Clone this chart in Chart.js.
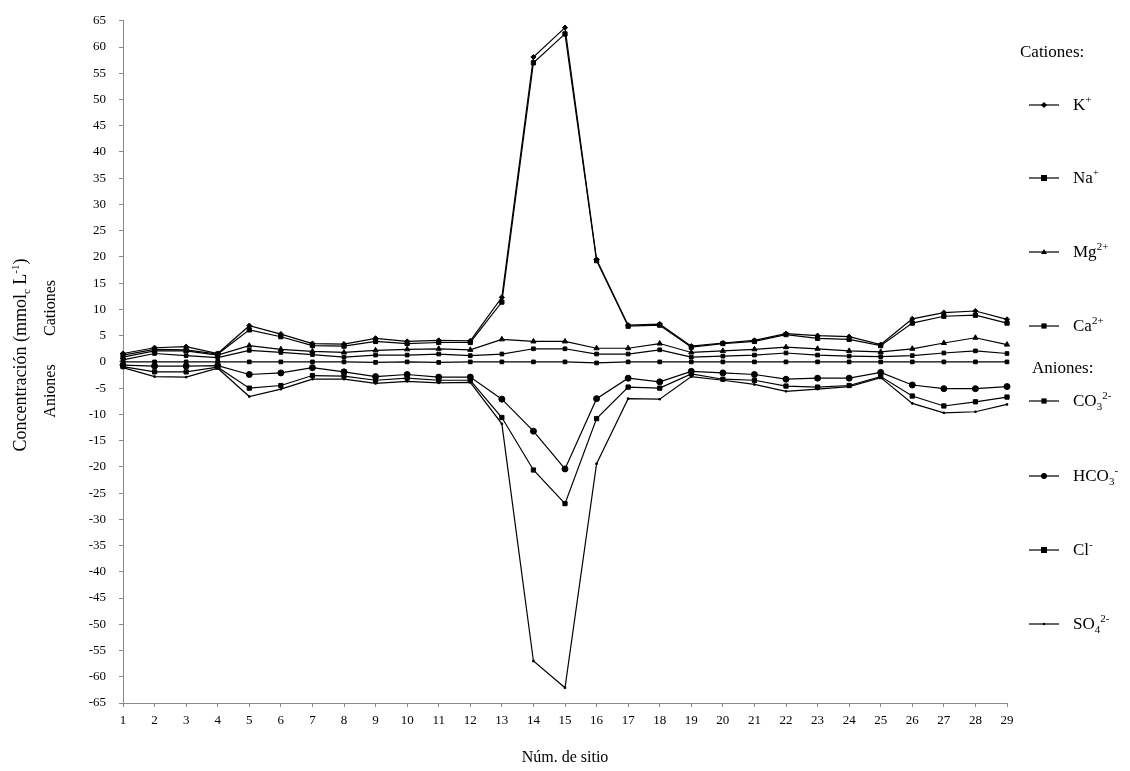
<!DOCTYPE html>
<html>
<head>
<meta charset="utf-8">
<script src="https://cdn.jsdelivr.net/npm/chart.js@4/dist/chart.umd.min.js"></script>
<style>
  html, body { margin:0; padding:0; background:#fff; }
  #wrap { position:relative; width:1130px; height:771px; font-family:"Liberation Serif","Times New Roman",serif; color:#000; }
  canvas { position:absolute; left:0; top:0; }
  .rot { position:absolute; white-space:nowrap; transform:translate(-50%,-50%) rotate(-90deg); font-size:16px; }
  .lbl { position:absolute; white-space:nowrap; font-size:17px; transform:translateY(-50%); }
  .sym { position:absolute; transform:translateY(-50%); }
  sup { font-size:11px; vertical-align:7px; line-height:0; }
  sub { font-size:11px; vertical-align:-4px; line-height:0; }
  #xt { position:absolute; left:565px; top:757px; transform:translate(-50%,-50%); font-size:16px; white-space:nowrap; }
</style>
</head>
<body>
<div id="wrap">
  <canvas id="c" width="1130" height="771"></canvas>
  <div class="rot" style="left:20px; top:355px; font-size:18px;">Concentración (mmol<sub>c</sub> L<sup>-1</sup>)</div>
  <div class="rot" style="left:50px; top:308px;">Cationes</div>
  <div class="rot" style="left:50px; top:391px;">Aniones</div>
  <div id="xt">Núm. de sitio</div>
  <div id="legend"></div>
</div>
<script>
// ---- data ----
const sites = [1,2,3,4,5,6,7,8,9,10,11,12,13,14,15,16,17,18,19,20,21,22,23,24,25,26,27,28,29];
const K    = [1.6, 2.7, 2.9, 1.6, 6.9, 5.3, 3.5, 3.4, 4.5, 3.9, 4.1, 4.0, 12.3, 58.1, 63.7, 19.5, 7.0, 7.2, 3.0, 3.6, 4.1, 5.4, 5.0, 4.8, 3.3, 8.2, 9.4, 9.7, 8.1];
const Na   = [1.3, 2.4, 2.3, 1.5, 6.1, 4.8, 3.1, 3.0, 3.9, 3.5, 3.7, 3.7, 11.4, 57.0, 62.5, 19.3, 6.8, 7.0, 2.8, 3.5, 3.9, 5.2, 4.5, 4.3, 3.1, 7.4, 8.7, 8.9, 7.4];
const Mg   = [0.9, 2.1, 2.1, 1.3, 3.1, 2.4, 2.0, 1.8, 2.2, 2.4, 2.5, 2.3, 4.3, 3.9, 3.9, 2.6, 2.6, 3.5, 1.8, 2.1, 2.4, 2.8, 2.5, 2.1, 1.9, 2.5, 3.6, 4.6, 3.3];
const Ca   = [0.4, 1.6, 1.2, 0.8, 2.2, 1.8, 1.4, 0.9, 1.3, 1.3, 1.5, 1.2, 1.5, 2.5, 2.5, 1.5, 1.5, 2.3, 0.9, 1.1, 1.3, 1.7, 1.3, 1.1, 1.0, 1.2, 1.7, 2.1, 1.6];
const CO3  = [0, 0, 0, 0, 0, 0, 0, 0, -0.1, 0, -0.1, 0, 0, 0, 0, -0.2, 0, 0, 0, 0, 0, 0, 0, 0, 0, 0, 0, 0, 0];
const HCO3 = [-0.6, -0.8, -0.8, -0.7, -2.4, -2.1, -1.1, -1.9, -2.8, -2.4, -2.9, -2.9, -7.1, -13.2, -20.4, -7.0, -3.1, -3.8, -1.8, -2.1, -2.4, -3.3, -3.1, -3.1, -2.0, -4.4, -5.1, -5.1, -4.7];
const Cl   = [-0.9, -1.9, -1.9, -1.0, -5.0, -4.5, -2.6, -2.7, -3.5, -3.1, -3.5, -3.5, -10.6, -20.6, -27.0, -10.8, -4.8, -5.0, -2.3, -3.3, -3.5, -4.6, -4.8, -4.5, -2.8, -6.5, -8.4, -7.6, -6.7];
const SO4  = [-1.1, -2.8, -2.9, -1.2, -6.6, -5.2, -3.3, -3.3, -4.1, -3.7, -4.0, -3.9, -11.8, -57.0, -62.1, -19.4, -7.0, -7.1, -2.8, -3.5, -4.3, -5.6, -5.2, -4.7, -3.0, -7.9, -9.7, -9.5, -8.1];
const seriesLabels = ['K<sup>+</sup>', 'Na<sup>+</sup>', 'Mg<sup>2+</sup>', 'Ca<sup>2+</sup>', 'CO<sub>3</sub><sup>2-</sup>', 'HCO<sub>3</sub><sup>-</sup>', 'Cl<sup>-</sup>', 'SO<sub>4</sub><sup>2-</sup>'];
const groupHeaders = ['Cationes:', 'Aniones:'];
const yMin = -65, yMax = 65, yStep = 5;

// ---- styles ----
const styles = [
  {pt:'rectRot', r:2.6},
  {pt:'rect', r:3},
  {pt:'triangle', r:3},
  {pt:'rect', r:2.6},
  {pt:'rect', r:2.6},
  {pt:'circle', r:3},
  {pt:'rect', r:3},
  {pt:'rect', r:1.1}
];
const values = [K, Na, Mg, Ca, CO3, HCO3, Cl, SO4];
const datasets = values.map((v, i) => ({
  label: seriesLabels[i],
  data: v,
  borderColor: '#000',
  backgroundColor: '#000',
  borderWidth: 1.2,
  pointStyle: styles[i].pt,
  pointRadius: styles[i].r,
  pointBorderWidth: 1,
  pointBorderColor: '#000',
  pointBackgroundColor: '#000',
  tension: 0,
  fill: false
}));

const axisColor = '#8a8a8a';
new Chart(document.getElementById('c'), {
  type: 'line',
  data: { labels: sites, datasets },
  options: {
    responsive: false,
    animation: false,
    devicePixelRatio: 1,
    layout: { padding: { top: 15, right: 123, left: 0, bottom: 0 } },
    plugins: { legend: { display: false }, tooltip: { enabled: false } },
    scales: {
      x: {
        type: 'category',
        offset: false,
        grid: { drawOnChartArea: false, drawTicks: true, tickLength: 4, color: axisColor },
        border: { color: axisColor, width: 1 },
        ticks: { autoSkip: false, maxRotation: 0, color: '#000', padding: 6,
                 font: { family: 'Liberation Serif', size: 13 } },
        afterFit: s => { s.height = 68; }
      },
      y: {
        type: 'linear',
        min: yMin, max: yMax,
        grid: { drawOnChartArea: false, drawTicks: true, tickLength: 4, color: axisColor },
        border: { color: axisColor, width: 1 },
        ticks: { stepSize: yStep, color: '#000', padding: 13,
                 font: { family: 'Liberation Serif', size: 13 } },
        afterFit: s => { s.width = 123; }
      }
    }
  }
});

// ---- legend (HTML) ----
const legend = document.getElementById('legend');
const headerY = [52, 368];
const itemY = [105, 178, 252, 326, 401, 476, 550, 624];
function symSvg(i) {
  const st = styles[i], cx = 15, cy = 5, r = st.r;
  let m = '';
  if (st.pt === 'rect') m = `<rect x="${cx-r}" y="${cy-r}" width="${2*r}" height="${2*r}" fill="#000"/>`;
  else if (st.pt === 'rectRot') m = `<polygon points="${cx},${cy-r-0.5} ${cx+r+0.5},${cy} ${cx},${cy+r+0.5} ${cx-r-0.5},${cy}" fill="#000"/>`;
  else if (st.pt === 'triangle') m = `<polygon points="${cx},${cy-r} ${cx+r},${cy+r*0.7} ${cx-r},${cy+r*0.7}" fill="#000"/>`;
  else if (st.pt === 'circle') m = `<circle cx="${cx}" cy="${cy}" r="${r}" fill="#000"/>`;
  return `<svg width="30" height="10" viewBox="0 0 30 10"><line x1="0" y1="5" x2="30" y2="5" stroke="#000" stroke-width="1.2"/>${m}</svg>`;
}
groupHeaders.forEach((h, k) => {
  const d = document.createElement('div');
  d.className = 'lbl';
  d.style.left = (k === 0 ? 1020 : 1032) + 'px';
  d.style.top = headerY[k] + 'px';
  d.textContent = h;
  legend.appendChild(d);
});
seriesLabels.forEach((lab, i) => {
  const s = document.createElement('div');
  s.className = 'sym';
  s.style.left = '1029px';
  s.style.top = itemY[i] + 'px';
  s.innerHTML = symSvg(i);
  legend.appendChild(s);
  const t = document.createElement('div');
  t.className = 'lbl';
  t.style.left = '1073px';
  t.style.top = itemY[i] + 'px';
  t.innerHTML = lab;
  legend.appendChild(t);
});
</script>
</body>
</html>
